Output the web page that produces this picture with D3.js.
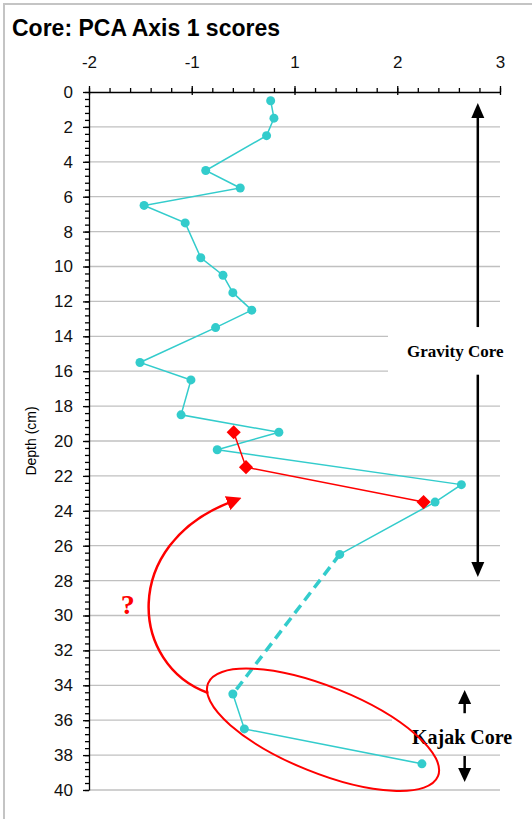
<!DOCTYPE html>
<html>
<head>
<meta charset="utf-8">
<script src="https://d3js.org/d3.v7.min.js"></script>
<style>
  body { margin: 0; background: #fff; }
  svg { display: block; }
</style>
</head>
<body>
<div id="chart"></div>
<script>
// gravity core samples
var gravityDepth = [0.5, 1.5, 2.5, 4.5, 5.5, 6.5, 7.5, 9.5, 10.5, 11.5, 12.5, 13.5, 15.5, 16.5, 18.5, 19.5, 20.5, 22.5, 23.5, 26.5];
var gravityScore = [0.21, 0.25, 0.16, -0.58, -0.16, -1.33, -0.83, -0.64, -0.37, -0.25, -0.02, -0.46, -1.38, -0.76, -0.88, 0.31, -0.44, 2.53, 2.21, 1.05];
// kajak core samples
var kajakDepth = [34.5, 36.5, 38.5];
var kajakScore = [-0.25, -0.11, 2.05];
// red diamond series
var redDepth = [19.5, 21.5, 23.5];
var redScore = [-0.24, -0.09, 2.07];

// axis ticks (excel major unit 1.25, shown with no decimals)
var xTickValues = [-2, -0.75, 0.5, 1.75, 3];
var xTickLabels = ["-2", "-1", "1", "2", "3"];
var yTickValues = d3.range(0, 41, 2);

var W = 532, H = 819;

var svg = d3.select("#chart").append("svg")
  .attr("width", W)
  .attr("height", H);

var x = d3.scaleLinear().domain([-2, 3]).range([89, 500]);
var y = d3.scaleLinear().domain([0, 40]).range([92, 790]);

// chart border
svg.append("rect")
  .attr("x", 4).attr("y", 4)
  .attr("width", 700).attr("height", 900)
  .attr("fill", "none")
  .attr("stroke", "#c4c4c4")
  .attr("stroke-width", 2);

// title
svg.append("text")
  .attr("x", 12).attr("y", 36)
  .style("font-family", "Liberation Sans, Arial, sans-serif")
  .style("font-weight", "bold")
  .style("font-size", "23px")
  .text("Core: PCA Axis 1 scores");

// gridlines
svg.append("g").selectAll("line")
  .data(yTickValues.slice(1))
  .enter().append("line")
    .attr("x1", x(-2)).attr("x2", x(3))
    .attr("y1", function(d){ return y(d); })
    .attr("y2", function(d){ return y(d); })
    .attr("stroke", "#c0c0c0")
    .attr("stroke-width", 1.3);

// x axis on top
var xMinor = d3.range(-2, 3.001, 0.25);
svg.append("g")
  .attr("transform", "translate(0," + y(0) + ")")
  .call(d3.axisTop(x).tickValues(xMinor).tickSize(4).tickFormat(""))
  .call(function(g){ g.select(".domain").remove(); });

var xAxis = svg.append("g")
  .attr("transform", "translate(0," + y(0) + ")")
  .call(d3.axisTop(x).tickValues(xTickValues).tickSizeInner(6).tickSizeOuter(0).tickPadding(18)
    .tickFormat(function(d, i){ return xTickLabels[i]; }));
xAxis.selectAll(".tick line").attr("y2", 3).attr("y1", -6);

// y axis
var yMinor = d3.range(0, 40.001, 0.4);
svg.append("g")
  .attr("transform", "translate(" + x(-2) + ",0)")
  .call(d3.axisLeft(y).tickValues(yMinor).tickSize(4).tickFormat(""))
  .call(function(g){ g.select(".domain").remove(); });

svg.append("g")
  .attr("transform", "translate(" + x(-2) + ",0)")
  .call(d3.axisLeft(y).tickValues(yTickValues).tickSizeInner(6).tickSizeOuter(0).tickPadding(10));

svg.selectAll(".tick text")
  .style("font-family", "Liberation Sans, Arial, sans-serif")
  .style("font-size", "17px")
  .attr("fill", "#111");
svg.selectAll(".domain, .tick line").attr("stroke", "#000").attr("stroke-width", 1.3);

// y axis title
svg.append("text")
  .attr("transform", "translate(36," + y(20) + ") rotate(-90)")
  .attr("text-anchor", "middle")
  .style("font-family", "Liberation Sans, Arial, sans-serif")
  .style("font-size", "14px")
  .text("Depth (cm)");

var cyan = "#33cccc", red = "#ff0000";

function pts(ds, ss){ return ds.map(function(d, i){ return {d: d, s: ss[i]}; }); }
var gravity = pts(gravityDepth, gravityScore);
var kajak = pts(kajakDepth, kajakScore);
var reds = pts(redDepth, redScore);

var line = d3.line()
  .x(function(p){ return x(p.s); })
  .y(function(p){ return y(p.d); });

// dashed link between the two cores
svg.append("path")
  .datum([gravity[gravity.length - 1], kajak[0]])
  .attr("d", line)
  .attr("fill", "none")
  .attr("stroke", cyan)
  .attr("stroke-width", 3.5)
  .attr("stroke-dasharray", "10,6");

[gravity, kajak].forEach(function(series){
  svg.append("path")
    .datum(series)
    .attr("d", line)
    .attr("fill", "none")
    .attr("stroke", cyan)
    .attr("stroke-width", 1.5);
  svg.append("g").selectAll("circle")
    .data(series)
    .enter().append("circle")
      .attr("cx", function(p){ return x(p.s); })
      .attr("cy", function(p){ return y(p.d); })
      .attr("r", 4.5)
      .attr("fill", cyan);
});

svg.append("path")
  .datum(reds)
  .attr("d", line)
  .attr("fill", "none")
  .attr("stroke", red)
  .attr("stroke-width", 1.5);

svg.append("g").selectAll("path")
  .data(reds)
  .enter().append("path")
    .attr("d", d3.symbol().type(d3.symbolSquare).size(100))
    .attr("transform", function(p){ return "translate(" + x(p.s) + "," + y(p.d) + ") rotate(45)"; })
    .attr("fill", red);

// ---- annotations ----
var serif = "Liberation Serif, Times New Roman, serif";

// Gravity core label and arrow
var gx = x(2.73);
svg.append("rect")
  .attr("x", 388).attr("y", y(13.45))
  .attr("width", 140).attr("height", y(16.2) - y(13.45))
  .attr("fill", "#fff");
svg.append("line")
  .attr("x1", gx).attr("x2", gx)
  .attr("y1", y(0.63) + 12).attr("y2", y(13.47))
  .attr("stroke", "#000").attr("stroke-width", 2.5);
svg.append("line")
  .attr("x1", gx).attr("x2", gx)
  .attr("y1", y(16.2)).attr("y2", y(27.8) - 12)
  .attr("stroke", "#000").attr("stroke-width", 2.5);

function head(cx, tipY, dir, w, h){
  // dir -1 = up, 1 = down
  svg.append("path")
    .attr("d", "M" + cx + "," + tipY + "L" + (cx - w / 2) + "," + (tipY - dir * h) +
      "L" + (cx + w / 2) + "," + (tipY - dir * h) + "Z")
    .attr("fill", "#000");
}
head(gx, y(0.63), -1, 13, 15);
head(gx, y(27.8), 1, 13, 15);

svg.append("text")
  .attr("x", 407).attr("y", y(15.2))
  .style("font-family", serif)
  .style("font-weight", "bold")
  .style("font-size", "17px")
  .text("Gravity Core");

// Kajak core label and arrows
var kx = x(2.57);
svg.append("rect")
  .attr("x", 392).attr("y", y(35.3))
  .attr("width", 140).attr("height", y(37.3) - y(35.3))
  .attr("fill", "#fff");
svg.append("line")
  .attr("x1", kx).attr("x2", kx)
  .attr("y1", y(34.27) + 12).attr("y2", y(35.6))
  .attr("stroke", "#000").attr("stroke-width", 2.5);
svg.append("line")
  .attr("x1", kx).attr("x2", kx)
  .attr("y1", y(38.05)).attr("y2", y(39.54) - 12)
  .attr("stroke", "#000").attr("stroke-width", 2.5);
head(kx, y(34.27), -1, 13, 14);
head(kx, y(39.54), 1, 13, 14);

svg.append("text")
  .attr("x", 412).attr("y", y(37.35))
  .style("font-family", serif)
  .style("font-weight", "bold")
  .style("font-size", "20px")
  .text("Kajak Core");

// red ellipse round the kajak points
svg.append("ellipse")
  .attr("cx", 0).attr("cy", 0)
  .attr("rx", 124).attr("ry", 43)
  .attr("transform", "translate(" + x(0.847) + "," + y(36.55) + ") rotate(22)")
  .attr("fill", "none")
  .attr("stroke", red)
  .attr("stroke-width", 2);

// curved arrow with question mark
svg.append("defs").append("marker")
  .attr("id", "redhead")
  .attr("viewBox", "0 0 10 10")
  .attr("refX", 2).attr("refY", 5)
  .attr("markerWidth", 6).attr("markerHeight", 6)
  .attr("markerUnits", "strokeWidth")
  .attr("orient", "auto")
  .append("path")
    .attr("d", "M0,0L10,5L0,10Z")
    .attr("fill", red);

var c = [[-0.55, 34.44], [-1.50, 32.84], [-1.62, 25.96], [-0.28, 23.5]];
svg.append("path")
  .attr("d", "M" + x(c[0][0]) + "," + y(c[0][1]) +
    "C" + x(c[1][0]) + "," + y(c[1][1]) + " " + x(c[2][0]) + "," + y(c[2][1]) +
    " " + x(c[3][0]) + "," + y(c[3][1]))
  .attr("fill", "none")
  .attr("stroke", red)
  .attr("stroke-width", 2.5)
  .attr("marker-end", "url(#redhead)");

svg.append("text")
  .attr("x", x(-1.53)).attr("y", y(29.9))
  .attr("text-anchor", "middle")
  .style("font-family", serif)
  .style("font-weight", "bold")
  .style("font-size", "28px")
  .attr("fill", red)
  .text("?");
</script>
</body>
</html>
